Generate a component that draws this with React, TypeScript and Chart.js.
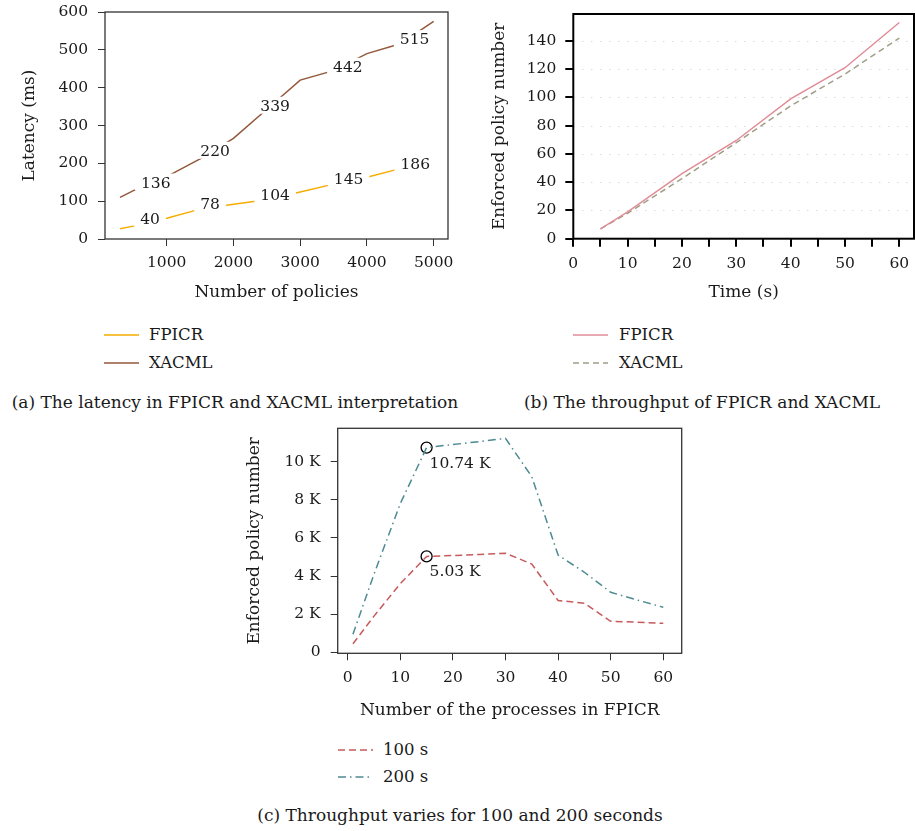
import React, { useEffect, useRef } from "react";
import { Chart, registerables } from "chart.js";
Chart.register(...registerables);

const FONT = '"DejaVu Serif", "Liberation Serif", serif';
const TXT = "#1a1a1a";

// ---------- (a) latency ----------
const policyCounts = [300, 500, 1000, 1500, 2000, 2500, 3000, 3500, 4000, 4500, 5000];
const fpicrLatency = [27, 34, 55, 79, 92, 104, 124, 145, 163, 186, 205];
const xacmlLatency = [110, 128, 165, 212, 266, 343, 420, 445, 490, 516, 575];
const fpicrLabelX = [750, 1650, 2625, 3725, 4725];
const fpicrLabelVals = [40, 78, 104, 145, 186];
const xacmlLabelX = [835, 1725, 2625, 3715, 4715];
const xacmlLabelVals = [136, 220, 339, 442, 515];
const latencyXTicks = [1000, 2000, 3000, 4000, 5000];

// ---------- (b) throughput ----------
const timeSec = [5, 10, 20, 30, 40, 50, 60];
const fpicrEnforced = [7, 19, 46, 69.5, 99, 121, 153];
const xacmlEnforced = [7, 18, 42.5, 68, 94, 116.5, 142];

// ---------- (c) processes ----------
const processes = [1, 5, 10, 15, 20, 25, 30, 35, 40, 45, 50, 55, 60];
const enforced100 = [450, 1900, 3600, 5030, 5080, 5130, 5200, 4630, 2720, 2580, 1630, 1580, 1520];
const enforced200 = [950, 4100, 7800, 10740, 10900, 11050, 11220, 9210, 5100, 4200, 3150, 2750, 2360];
const peakX = [15, 15];
const peakY = [10740, 5030];
const peakLabels = ["10.74 K", "5.03 K"];

const TICK_SIZE = 15.5;
const tickFont = { family: FONT, size: TICK_SIZE };
const titleFont = { family: FONT, size: 17 };
const TEXT_SIZE = 16.5;
const CAPTION_SIZE = 17;

const framePlugin = (color: string, width: number) => ({
  id: "frame",
  afterDraw(chart: any) {
    const { ctx, chartArea: a } = chart;
    ctx.save();
    ctx.strokeStyle = color;
    ctx.lineWidth = width;
    ctx.strokeRect(a.left, a.top, a.right - a.left, a.bottom - a.top);
    ctx.restore();
  },
});

function axis(o: any) {
  return {
    type: "linear",
    min: o.min,
    max: o.max,
    border: { display: false },
    grid: {
      display: true,
      drawOnChartArea: false,
      drawTicks: true,
      tickLength: o.tickLength ?? 7,
      color: o.tickColor ?? "#333",
      lineWidth: o.tickWidth ?? 1,
    },
    ticks: {
      color: TXT,
      font: tickFont,
      padding: o.padding ?? 8,
      autoSkip: false,
      maxRotation: 0,
      callback: o.callback,
    },
    afterBuildTicks: o.ticks
      ? (s: any) => {
          s.ticks = o.ticks.map((v: number) => ({ value: v }));
        }
      : undefined,
    title: { display: true, text: o.title, color: TXT, font: titleFont, padding: o.titlePadding },
    afterFit: (s: any) => {
      if (o.width !== undefined) s.width = o.width;
      if (o.height !== undefined) s.height = o.height;
      s.paddingTop = 0;
      s.paddingBottom = 0;
      s.paddingLeft = 0;
      s.paddingRight = 0;
    },
  };
}

function useChart(build: (c: HTMLCanvasElement) => Chart) {
  const ref = useRef<HTMLCanvasElement | null>(null);
  useEffect(() => {
    const ch = build(ref.current!);
    return () => ch.destroy();
  }, []);
  return ref;
}

function range(a: number, b: number, s: number) {
  const r: number[] = [];
  for (let v = a; v <= b + 1e-9; v += s) r.push(v);
  return r;
}

function ChartA() {
  const ref = useChart((c) => {
    const labelPlugin = {
      id: "valueLabels",
      afterDatasetsDraw(chart: any) {
        const { ctx, scales } = chart;
        ctx.save();
        ctx.font = `${TICK_SIZE}px ${FONT}`;
        const draw = (xs: number[], vals: number[]) =>
          xs.forEach((xv, i) => {
            const t = String(vals[i]);
            const px = scales.x.getPixelForValue(xv);
            const py = scales.y.getPixelForValue(vals[i]);
            const w = ctx.measureText(t).width;
            ctx.fillStyle = "#fff";
            ctx.fillRect(px - w / 2 - 6, py - 14, w + 12, 17);
            ctx.fillStyle = TXT;
            ctx.textAlign = "center";
            ctx.textBaseline = "alphabetic";
            ctx.fillText(t, px, py);
          });
        draw(fpicrLabelX, fpicrLabelVals);
        draw(xacmlLabelX, xacmlLabelVals);
        ctx.restore();
      },
    };
    return new Chart(c, {
      type: "line",
      data: {
        datasets: [
          {
            label: "FPICR",
            data: policyCounts.map((x, i) => ({ x, y: fpicrLatency[i] })),
            borderColor: "#f5ad00",
            borderWidth: 1.5,
            pointRadius: 0,
          },
          {
            label: "XACML",
            data: policyCounts.map((x, i) => ({ x, y: xacmlLatency[i] })),
            borderColor: "#93573a",
            borderWidth: 1.5,
            pointRadius: 0,
          },
        ],
      },
      options: {
        animation: false,
        responsive: false,
        layout: { padding: { left: 0, top: 12, right: 12, bottom: 0 } },
        plugins: { legend: { display: false }, tooltip: { enabled: false } },
        scales: {
          x: axis({ min: 75, max: 5215, ticks: latencyXTicks, title: "Number of policies", height: 66, titlePadding: { bottom: 2 } }),
          y: axis({ min: 0, max: 600, ticks: range(0, 600, 100), title: "Latency (ms)", width: 105, titlePadding: { top: 19 }, padding: 10 }),
        },
      } as any,
      plugins: [labelPlugin, framePlugin("#333", 1.3)],
    });
  });
  return <canvas ref={ref} width={460} height={305} style={{ position: "absolute", left: 0, top: 0, width: 460, height: 305 }} />;
}

function ChartB() {
  const ref = useChart((c) => {
    const dotGrid = {
      id: "dotGrid",
      beforeDatasetsDraw(chart: any) {
        const { ctx, chartArea: a, scales } = chart;
        ctx.save();
        ctx.strokeStyle = "#c8c8c8";
        ctx.lineWidth = 1;
        ctx.setLineDash([1, 8]);
        scales.y.ticks.forEach((t: any) => {
          if (t.value === 0) return;
          const py = Math.round(scales.y.getPixelForValue(t.value)) + 0.5;
          ctx.beginPath();
          ctx.moveTo(a.left, py);
          ctx.lineTo(a.right, py);
          ctx.stroke();
        });
        ctx.restore();
      },
    };
    return new Chart(c, {
      type: "line",
      data: {
        datasets: [
          {
            label: "FPICR",
            data: timeSec.map((x, i) => ({ x, y: fpicrEnforced[i] })),
            borderColor: "#e08d98",
            borderWidth: 1.5,
            pointRadius: 0,
          },
          {
            label: "XACML",
            data: timeSec.map((x, i) => ({ x, y: xacmlEnforced[i] })),
            borderColor: "#a09f86",
            borderWidth: 1.5,
            borderDash: [6, 4],
            pointRadius: 0,
          },
        ],
      },
      options: {
        animation: false,
        responsive: false,
        layout: { padding: { left: 0, top: 14, right: 1, bottom: 0 } },
        plugins: { legend: { display: false }, tooltip: { enabled: false } },
        scales: {
          x: axis({
            min: 0,
            max: 62.7,
            ticks: range(0, 60, 5),
            callback: (v: number) => (v % 10 === 0 ? String(v) : ""),
            title: "Time (s)",
            height: 66.3,
            titlePadding: { bottom: 2 },
            tickLength: 8,
            tickColor: "#000",
            tickWidth: 2,
          }),
          y: axis({
            min: 0,
            max: 159,
            ticks: range(0, 140, 20),
            title: "Enforced policy number",
            width: 113.3,
            titlePadding: { top: 29 },
            tickLength: 8,
            tickColor: "#000",
            tickWidth: 2,
            padding: 9,
          }),
        },
      } as any,
      plugins: [dotGrid, framePlugin("#000", 2)],
    });
  });
  return <canvas ref={ref} width={455} height={305} style={{ position: "absolute", left: 460, top: 0, width: 455, height: 305 }} />;
}

function ChartC() {
  const ref = useChart((c) => {
    const peakLabelPlugin = {
      id: "peakLabels",
      afterDatasetsDraw(chart: any) {
        const { ctx, scales } = chart;
        ctx.save();
        ctx.font = `${TICK_SIZE}px ${FONT}`;
        ctx.fillStyle = TXT;
        ctx.textAlign = "left";
        ctx.textBaseline = "middle";
        peakX.forEach((xv, i) => {
          const px = scales.x.getPixelForValue(xv);
          const py = scales.y.getPixelForValue(peakY[i]);
          ctx.fillText(peakLabels[i], px + 3, py + 16);
        });
        ctx.restore();
      },
    };
    return new Chart(c, {
      type: "line",
      data: {
        datasets: [
          {
            label: "100 s",
            data: processes.map((x, i) => ({ x, y: enforced100[i] })),
            borderColor: "#c65a5c",
            borderWidth: 1.5,
            borderDash: [7, 4],
            pointRadius: 0,
          },
          {
            label: "200 s",
            data: processes.map((x, i) => ({ x, y: enforced200[i] })),
            borderColor: "#4d8a92",
            borderWidth: 1.5,
            borderDash: [8, 4, 1.5, 4],
            pointRadius: 0,
          },
          {
            label: "peaks",
            data: peakX.map((x, i) => ({ x, y: peakY[i] })),
            showLine: false,
            pointRadius: 5.5,
            pointBorderColor: "#000",
            pointBackgroundColor: "rgba(0,0,0,0)",
            pointBorderWidth: 1.3,
          },
        ],
      },
      options: {
        animation: false,
        responsive: false,
        layout: { padding: { left: 0, top: 13.3, right: 8.3, bottom: 0 } },
        plugins: { legend: { display: false }, tooltip: { enabled: false } },
        scales: {
          x: axis({
            min: -1.9,
            max: 63.5,
            ticks: range(0, 60, 10),
            title: "Number of the processes in FPICR",
            height: 71.7,
            titlePadding: { bottom: 4 },
          }),
          y: axis({
            min: -50,
            max: 11750,
            ticks: range(0, 10000, 2000),
            callback: (v: number) => (v === 0 ? "0" : v / 1000 + " K"),
            title: "Enforced policy number",
            width: 107.7,
            titlePadding: { top: 14 },
            padding: 10,
          }),
        },
      } as any,
      plugins: [peakLabelPlugin, framePlugin("#333", 1.3)],
    });
  });
  return <canvas ref={ref} width={460} height={310} style={{ position: "absolute", left: 230, top: 415, width: 460, height: 310 }} />;
}

function LegendRow(p: { x1: number; x2: number; cy: number; textX: number; color: string; dash?: string; label: string }) {
  return (
    <>
      <svg style={{ position: "absolute", left: p.x1, top: p.cy - 3 }} width={p.x2 - p.x1} height={6}>
        <line x1={0} y1={3} x2={p.x2 - p.x1} y2={3} stroke={p.color} strokeWidth={1.6} strokeDasharray={p.dash} />
      </svg>
      <div style={{ position: "absolute", left: p.textX, top: p.cy - 12, height: 24, lineHeight: "24px", fontFamily: FONT, fontSize: TEXT_SIZE, color: TXT, whiteSpace: "nowrap" }}>
        {p.label}
      </div>
    </>
  );
}

function Caption(p: { cx: number; cy: number; text: string }) {
  return (
    <div style={{ position: "absolute", left: p.cx - 300, width: 600, top: p.cy - 12, height: 24, lineHeight: "24px", textAlign: "center", fontFamily: FONT, fontSize: CAPTION_SIZE, color: TXT, whiteSpace: "nowrap" }}>
      {p.text}
    </div>
  );
}

export default function App() {
  return (
    <div style={{ position: "absolute", left: 0, top: 0, width: 915, height: 831, background: "#fff", overflow: "hidden" }}>
      <ChartA />
      <ChartB />
      <ChartC />
      <LegendRow x1={104} x2={139} cy={335} textX={149} color="#f5ad00" label="FPICR" />
      <LegendRow x1={104} x2={139} cy={363} textX={149} color="#93573a" label="XACML" />
      <LegendRow x1={573} x2={608} cy={335} textX={619} color="#e08d98" label="FPICR" />
      <LegendRow x1={573} x2={608} cy={363} textX={619} color="#a09f86" dash="6 4" label="XACML" />
      <LegendRow x1={338} x2={373} cy={750} textX={383} color="#c65a5c" dash="7 4" label="100 s" />
      <LegendRow x1={338} x2={373} cy={777} textX={383} color="#4d8a92" dash="8 4 1.5 4" label="200 s" />
      <Caption cx={235} cy={402} text="(a) The latency in FPICR and XACML interpretation" />
      <Caption cx={702} cy={402} text="(b) The throughput of FPICR and XACML" />
      <Caption cx={460} cy={815} text="(c) Throughput varies for 100 and 200 seconds" />
    </div>
  );
}
